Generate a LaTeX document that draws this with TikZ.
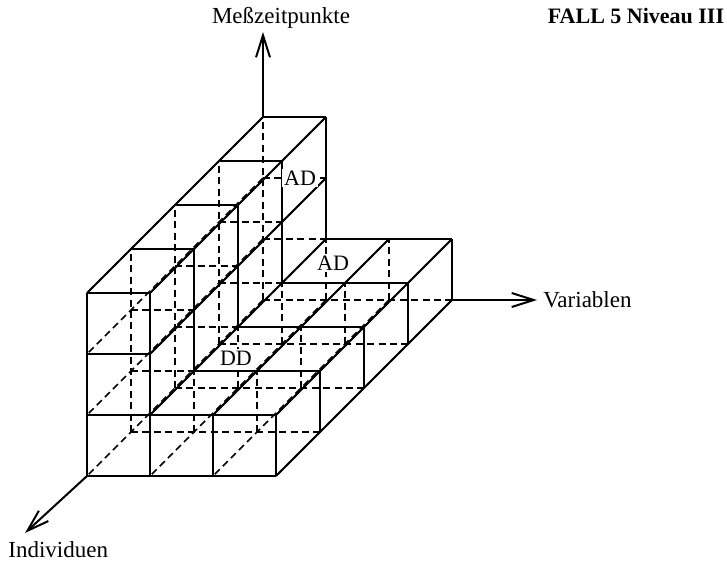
\documentclass[tikz,border=0pt]{standalone}
\usepackage{fontspec}
\setmainfont{Liberation Serif}
\usetikzlibrary{arrows.meta}
\begin{document}
\begin{tikzpicture}[x=0.5pt,y=-0.5pt,
  hidden/.style={line width=0.85pt,dash pattern=on 3.5pt off 2.2pt},
  visible/.style={line width=0.95pt,line join=round},
  axis/.style={line width=1pt,-{Straight Barb[length=11pt,width=7pt,line width=1pt]}},
  lbl/.style={inner sep=0pt,font=\fontsize{11.5pt}{13pt}\selectfont},
  ttl/.style={inner sep=0pt,font=\fontsize{11pt}{13pt}\selectfont\bfseries},
  tag/.style={inner sep=1pt,fill=white,font=\fontsize{11pt}{13pt}\selectfont}]
\useasboundingbox (0,0) rectangle (727,563);
\coordinate (tipM) at (263,32);
\coordinate (tipV) at (537,300);
\coordinate (tipI) at (25,533);
\begin{scope}[shift={(263,300)},x={(31.5pt,0pt)},y={(-22pt,-22pt)},z={(0pt,30.5pt)}]
  \coordinate (O) at (0,0,0);
  \coordinate (Ztop) at (0,0,3);
  \coordinate (Xend) at (3,0,0);
  \coordinate (Yend) at (0,4,0);
  % all cube edges (hidden ones stay dashed)
  \begin{scope}[hidden]
    \foreach \y in {0,...,4} {
      \foreach \z in {0,1} {\draw (0,\y,\z) -- (3,\y,\z);}
      \foreach \z in {2,3} {\draw (0,\y,\z) -- (1,\y,\z);}
    }
    \foreach \x in {0,1} {\foreach \z in {0,...,3} {\draw (\x,0,\z) -- (\x,4,\z);}}
    \foreach \x in {2,3} {\foreach \z in {0,1} {\draw (\x,0,\z) -- (\x,4,\z);}}
    \foreach \y in {0,...,4} {
      \foreach \x in {0,1} {\draw (\x,\y,0) -- (\x,\y,3);}
      \foreach \x in {2,3} {\draw (\x,\y,0) -- (\x,\y,1);}
    }
  \end{scope}
  % visible edges
  \begin{scope}[visible]
    % top of the tall column
    \foreach \y in {0,...,4} {\draw (0,\y,3) -- (1,\y,3);}
    \draw (0,0,3) -- (0,4,3);
    \draw (1,0,3) -- (1,4,3);
    % front face
    \foreach \z in {0,1} {\draw (0,4,\z) -- (3,4,\z);}
    \foreach \z in {2,3} {\draw (0,4,\z) -- (1,4,\z);}
    \draw (0,4,0) -- (0,4,3);
    \draw (1,4,0) -- (1,4,3);
    \foreach \x in {2,3} {\draw (\x,4,0) -- (\x,4,1);}
    % right face of the tall column
    \foreach \z in {1,2} {\draw (1,0,\z) -- (1,4,\z);}
    \foreach \y in {0,...,3} {\draw (1,\y,1) -- (1,\y,3);}
    % top of the flat part
    \foreach \y in {0,...,3} {\draw (1,\y,1) -- (3,\y,1);}
    \foreach \x in {2,3} {\draw (\x,0,1) -- (\x,4,1);}
    % right face
    \draw (3,0,0) -- (3,4,0);
    \foreach \y in {0,...,3} {\draw (3,\y,0) -- (3,\y,1);}
  \end{scope}
\end{scope}
% axes
\draw[axis] (Ztop) -- (tipM);
\draw[axis] (Xend) -- (tipV);
\draw[axis] (Yend) -- (tipI);
% labels
\node[lbl,anchor=base] (mz) at (281,23) {Meßzeitpunkte};
\node[ttl,anchor=base] (fall) at (636,23) {FALL 5 Niveau III};
\node[lbl,anchor=base west] (var) at (543,307) {Variablen};
\node[lbl,anchor=base west] (ind) at (8,557) {Individuen};
\node[tag] (ad1) at (300,178) {AD};
\node[tag] (ad2) at (333,263) {AD};
\node[tag] (dd) at (236,358) {DD};
\end{tikzpicture}
\end{document}
